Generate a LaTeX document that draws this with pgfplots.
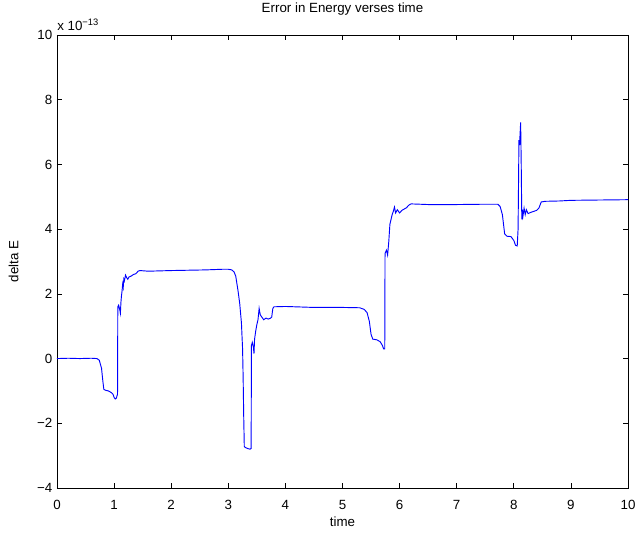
\documentclass[border=0pt]{standalone}
\usepackage{pgfplots}
\pgfplotsset{compat=1.18}
\usepackage{fontspec}
\setmainfont{Liberation Sans}
\pgfplotstableread{
t v
0 0.00
0.2 0.01
0.4 0.00
0.6 0.01
0.70 0.00
0.74 -0.05
0.78 -0.30
0.80 -0.65
0.82 -0.95
0.85 -0.98
0.90 -1.00
0.95 -1.05
0.98 -1.10
1.00 -1.20
1.02 -1.25
1.04 -1.22
1.06 -1.10
1.065 1.60
1.08 1.65
1.10 1.50
1.11 1.40
1.12 1.75
1.13 1.95
1.14 2.10
1.15 2.30
1.16 2.20
1.17 2.45
1.18 2.40
1.20 2.58
1.22 2.50
1.24 2.45
1.26 2.52
1.30 2.55
1.34 2.60
1.38 2.62
1.42 2.70
1.45 2.72
1.6 2.70
1.8 2.71
2.0 2.72
2.3 2.73
2.6 2.74
2.9 2.76
3.0 2.76
3.06 2.74
3.10 2.68
3.13 2.55
3.17 2.10
3.20 1.70
3.23 1.10
3.25 0.30
3.26 -0.60
3.27 -1.80
3.28 -2.72
3.30 -2.75
3.34 -2.78
3.38 -2.80
3.40 -2.78
3.405 0.40
3.42 0.50
3.44 0.35
3.45 0.15
3.46 0.60
3.48 0.85
3.50 1.05
3.52 1.20
3.54 1.55
3.56 1.35
3.58 1.30
3.62 1.20
3.66 1.25
3.70 1.22
3.74 1.25
3.76 1.28
3.78 1.55
3.80 1.60
4.0 1.61
4.5 1.58
5.0 1.58
5.3 1.57
5.38 1.52
5.43 1.42
5.47 1.15
5.50 0.75
5.53 0.60
5.60 0.58
5.66 0.52
5.70 0.40
5.72 0.30
5.74 0.30
5.745 3.25
5.77 3.35
5.79 3.20
5.81 3.60
5.83 4.15
5.85 4.30
5.87 4.45
5.89 4.55
5.91 4.68
5.93 4.50
5.96 4.60
6.00 4.50
6.04 4.58
6.08 4.62
6.12 4.66
6.16 4.74
6.20 4.78
6.5 4.76
7.0 4.76
7.5 4.77
7.72 4.77
7.76 4.70
7.80 4.45
7.84 3.85
7.88 3.78
7.95 3.77
8.00 3.65
8.03 3.50
8.06 3.48
8.075 4.00
8.09 6.75
8.10 6.60
8.12 7.30
8.13 6.00
8.14 4.30
8.15 4.60
8.16 4.40
8.18 4.65
8.20 4.45
8.22 4.60
8.25 4.48
8.30 4.52
8.35 4.55
8.40 4.58
8.44 4.65
8.48 4.84
8.55 4.86
8.8 4.87
9.0 4.89
9.5 4.90
10.0 4.91
}\energy
\begin{document}
\begin{tikzpicture}
\begin{axis}[
  scale only axis,
  width=428.25pt, height=339.75pt,
  xmin=0, xmax=10, ymin=-4, ymax=10,
  xtick={0,1,...,10},
  ytick={-4,-2,0,2,4,6,8,10},
  yticklabels={−4,−2,0,2,4,6,8,10},
  /pgf/number format/assume math mode=true,
  tick align=inside,
  major tick length=4pt,
  xtick pos=both, ytick pos=both,
  axis line style={line width=0.6pt},
  tick style={line width=0.5pt, black},
  ticklabel style={font=\fontsize{10}{12}\selectfont},
  xticklabel style={yshift=-5.5pt},
  title={Error in Energy verses time},
  title style={font=\fontsize{10}{12}\selectfont, yshift=5.5pt},
  xlabel={time},
  ylabel={delta E},
  label style={font=\fontsize{10}{12}\selectfont},
  xlabel style={yshift=1.5pt},
  ylabel style={yshift=7pt},
  scaled ticks=false,
  clip=true,
]
\addplot[color={rgb,255:red,0;green,0;blue,255}, line width=0.7pt, mark=none] table[x=t,y=v] {\energy};
\coordinate (SW) at (rel axis cs:0,0);
\coordinate (NE) at (rel axis cs:1,1);
\end{axis}
\node[anchor=south west, inner sep=0pt, font=\fontsize{10}{12}\selectfont] at ([yshift=3pt]SW|-NE) {x 10\textsuperscript{−13}};
\pgfresetboundingbox
\path[use as bounding box] ([shift={(-42.75pt,-33.75pt)}]SW) rectangle ([shift={(10.5pt,26.25pt)}]NE);
\end{tikzpicture}
\end{document}
